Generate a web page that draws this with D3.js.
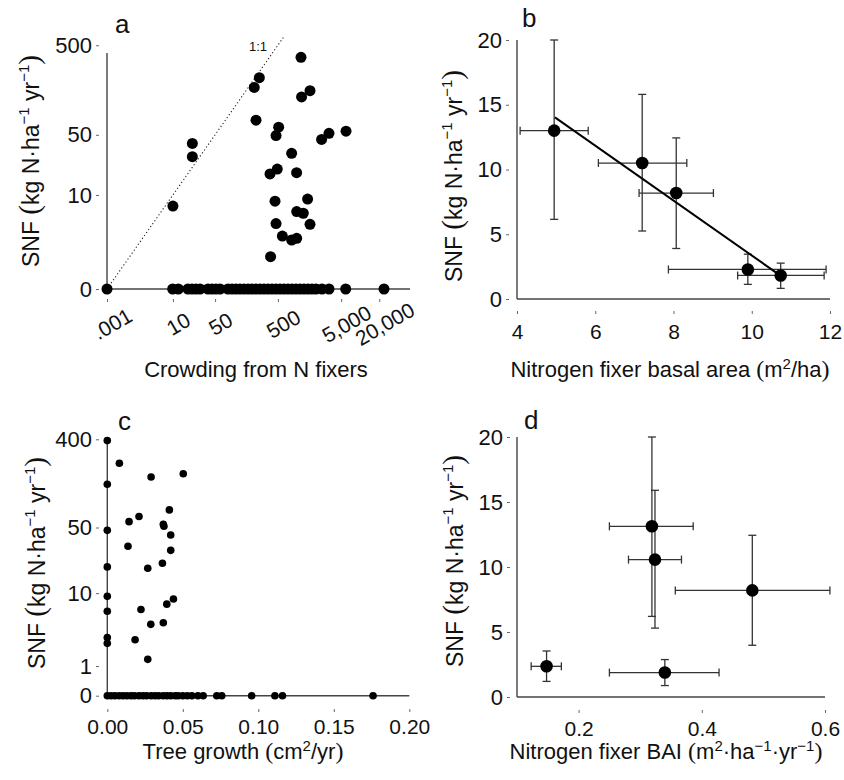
<!DOCTYPE html>
<html>
<head>
<meta charset="utf-8">
<script src="https://cdn.jsdelivr.net/npm/d3@7"></script>
<style>
  body { margin: 0; background: #fff; }
  svg text { font-family: 'Liberation Sans', Arial, sans-serif; fill: #111; }
</style>
</head>
<body>
<svg id="chart" width="844" height="780"></svg>
<script>
// ---- Data ----

// a: crowding from N fixers vs SNF (non-zero SNF)
var crowdA = [10, 21.3, 21.3, 211, 254, 225, 1160, 1185, 1610, 514, 467, 825, 375, 489, 988,
  2455, 3210, 5970, 450, 1475, 992, 1260, 467, 1610, 588, 825, 992, 383]
var snfA = [7.3, 40, 28.2, 170, 218, 73, 367, 133, 156, 61, 49, 30.8, 17.8, 20.3, 18.4,
  44.4, 52, 55, 8.4, 8.9, 6.2, 5.9, 4.3, 4.2, 2.86, 2.49, 2.64, 1.28]
// a: plots with SNF = 0
var crowdZeroA = [0, 9.9, 12.4, 18, 21, 24.5, 28.5, 38.4, 44.6, 51.7, 60, 80.5, 93.4, 108, 125, 145,
  168, 194, 225, 260, 301, 348, 403, 467, 540, 624, 722, 836, 967, 1119, 1294, 1496, 1732, 2003,
  2493, 3215, 5900, 23770]
var xTicksA = [0.001, 10, 50, 500, 5000, 20000]
var yTicksA = [0, 10, 50, 500]

// b: N fixer basal area vs SNF, means with error bars
var basalB = [4.95, 7.2, 8.07, 9.9, 10.74]
var basalLoB = [4.08, 6.08, 7.12, 7.87, 9.64]
var basalHiB = [5.82, 8.34, 9.02, 11.9, 11.85]
var snfB = [13.0, 10.5, 8.18, 2.28, 1.82]
var snfLoB = [6.15, 5.25, 3.9, 1.13, 0.82]
var snfHiB = [20.0, 15.8, 12.44, 3.46, 2.77]
var fitXB = [4.97, 10.68]
var fitYB = [14.02, 1.92]
var xTicksB = [4, 6, 8, 10, 12]
var yTicksB = [0, 5, 10, 15, 20]

// c: tree growth vs SNF
var growthC = [0, 0, 0, 0, 0, 0, 0, 0, 0.008, 0.029, 0.0503, 0.0144, 0.021, 0.0137, 0.0411, 0.0371,
  0.0375, 0.042, 0.042, 0.0365, 0.0268, 0.0438, 0.0394, 0.0223, 0.0288, 0.0371, 0.0184, 0.0268]
var snfC = [388, 139, 46.7, 19.3, 9.2, 6.2, 2.9, 2.4, 228, 165, 178, 57.5, 65, 31.9, 76, 54,
  51.5, 41.8, 28.9, 21.1, 18.7, 8.6, 7.5, 6.5, 4.3, 4.5, 2.7, 1.34]
var growthZeroC = [0, 0.0025, 0.005, 0.0078, 0.0104, 0.013, 0.0157, 0.018, 0.021, 0.0236, 0.026,
  0.029, 0.0316, 0.034, 0.037, 0.0395, 0.042, 0.045, 0.047, 0.05, 0.053, 0.056, 0.06, 0.0635,
  0.0725, 0.0758, 0.0956, 0.111, 0.116, 0.176]
var xTicksC = [0, 0.05, 0.1, 0.15, 0.2]
var yTicksC = [0, 1, 10, 50, 400]

// d: N fixer BAI vs SNF
var baiD = [0.148, 0.319, 0.324, 0.482, 0.34]
var baiLoD = [0.123, 0.25, 0.281, 0.357, 0.25]
var baiHiD = [0.172, 0.386, 0.367, 0.608, 0.428]
var snfD = [2.36, 13.13, 10.57, 8.2, 1.88]
var snfLoD = [1.2, 6.2, 5.3, 3.98, 0.88]
var snfHiD = [3.54, 20, 15.9, 12.44, 2.88]
var xTicksD = [0.2, 0.4, 0.6]
var yTicksD = [0, 5, 10, 15, 20]

var svg = d3.select('#chart')
var axisCol = '#444'
var yTickFont = 22
var xTickFont = 21
var titleFont = 22
var serif = "'Liberation Serif', serif"

// ---- helpers ----
function frame(x, y) {
  var g = svg.append('g')
  g.append('line')
    .attr('x1', x.range()[0]).attr('x2', x.range()[0])
    .attr('y1', y.range()[0]).attr('y2', y.range()[1])
    .attr('stroke', axisCol).attr('stroke-width', 1.4)
  g.append('line')
    .attr('x1', x.range()[0]).attr('x2', x.range()[1])
    .attr('y1', y.range()[0]).attr('y2', y.range()[0])
    .attr('stroke', axisCol).attr('stroke-width', 1.4)
}

function tidy(size) {
  return function(g) {
    g.select('.domain').remove()
    g.selectAll('.tick line').attr('stroke', '#666').attr('stroke-width', 1)
    g.selectAll('.tick text').attr('font-size', size).attr('fill', '#111')
      .style('font-family', "'Liberation Sans', Arial, sans-serif")
  }
}

function yAxis(y, ticks, fmt, xPos) {
  svg.append('g')
    .attr('transform', 'translate(' + xPos + ',0)')
    .call(d3.axisLeft(y).tickValues(ticks).tickFormat(fmt).tickSize(3).tickPadding(4))
    .call(tidy(yTickFont))
}

function xAxis(x, ticks, fmt, yPos, pad) {
  return svg.append('g')
    .attr('transform', 'translate(0,' + yPos + ')')
    .call(d3.axisBottom(x).tickValues(ticks).tickFormat(fmt).tickSize(3).tickPadding(pad))
    .call(tidy(xTickFont))
}

function yTitle(cx, cy) {
  var t = svg.append('text')
    .attr('transform', 'translate(' + cx + ',' + cy + ') rotate(-90)')
    .attr('text-anchor', 'middle')
    .attr('font-size', 23)
  t.append('tspan').text('SNF ')
  t.append('tspan').text('(').attr('font-size', 29).style('font-family', serif)
  t.append('tspan').text('kg N\u00b7ha')
  t.append('tspan').text('\u22121').attr('font-size', 15).attr('dy', -10)
  t.append('tspan').text(' yr').attr('dy', 10)
  t.append('tspan').text('\u22121').attr('font-size', 15).attr('dy', -10)
  t.append('tspan').text(')').attr('dy', 10).attr('font-size', 29).style('font-family', serif)
}

function unitTitle(x, y, parts) {
  var t = svg.append('text').attr('x', x).attr('y', y).attr('text-anchor', 'middle')
    .attr('font-size', titleFont)
  var shift = 0
  parts.forEach(function(p) {
    var s = t.append('tspan').text(p[0])
    var target = p[1] === 'sup' ? -8 : 0
    if (target !== shift) s.attr('dy', target - shift)
    shift = target
    if (p[1] === 'sup') s.attr('font-size', 15)
    if (p[1] === 'paren') s.attr('font-size', 24).style('font-family', serif)
  })
}

function letter(txt, x, y) {
  svg.append('text').attr('x', x).attr('y', y).attr('font-size', 26).text(txt)
}

function errorBars(x, y, xs, ys, xlo, xhi, ylo, yhi) {
  var g = svg.append('g').attr('stroke', '#333').attr('stroke-width', 1.3)
  var cap = 4
  xs.forEach(function(v, i) {
    var px = x(v), py = y(ys[i])
    g.append('line').attr('x1', px).attr('x2', px).attr('y1', y(ylo[i])).attr('y2', y(yhi[i]))
    g.append('line').attr('x1', px - cap).attr('x2', px + cap).attr('y1', y(ylo[i])).attr('y2', y(ylo[i]))
    g.append('line').attr('x1', px - cap).attr('x2', px + cap).attr('y1', y(yhi[i])).attr('y2', y(yhi[i]))
    g.append('line').attr('x1', x(xlo[i])).attr('x2', x(xhi[i])).attr('y1', py).attr('y2', py)
    g.append('line').attr('x1', x(xlo[i])).attr('x2', x(xlo[i])).attr('y1', py - cap).attr('y2', py + cap)
    g.append('line').attr('x1', x(xhi[i])).attr('x2', x(xhi[i])).attr('y1', py - cap).attr('y2', py + cap)
  })
}

function dots(x, y, xs, ys, r) {
  svg.append('g').selectAll('circle')
    .data(xs).enter().append('circle')
    .attr('cx', function(d) { return x(d) })
    .attr('cy', function(d, i) { return y(ys[i]) })
    .attr('r', r)
    .attr('fill', '#000')
}

// ---- Panel a ----
var xA = d3.scaleSymlog().constant(1).domain([0, 61200]).range([107, 410])
var yA = d3.scaleSymlog().constant(1).domain([0, 410]).range([289, 53])

frame(xA, yA)
// 1:1 line
svg.append('line')
  .attr('x1', xA(0)).attr('y1', yA(0))
  .attr('x2', xA(640)).attr('y2', yA(640))
  .attr('stroke', '#222').attr('stroke-width', 1.1).attr('stroke-dasharray', '1.2,2.4')
svg.append('text').attr('x', 258).attr('y', 51).attr('text-anchor', 'middle')
  .attr('font-size', 13).text('1:1')

dots(xA, yA, crowdZeroA, crowdZeroA.map(function() { return 0 }), 5.5)
dots(xA, yA, crowdA, snfA, 5.5)

yAxis(yA, yTicksA, d3.format('d'), 99)
var axA = xAxis(xA, xTicksA, function(d) { return d === 0.001 ? '.001' : d3.format(',')(d) }, 299, 0)
axA.selectAll('.tick text')
  .attr('y', 0).attr('dy', '0.35em')
  .attr('text-anchor', 'middle')
  .attr('transform', 'translate(5,25) rotate(-30)')

unitTitle(256, 377, [['Crowding from N fixers']])
yTitle(39, 161)
letter('a', 115, 33)

// ---- Panel b ----
var xB = d3.scaleLinear().domain([4, 12]).range([517, 830])
var yB = d3.scaleLinear().domain([0, 20]).range([299, 40])

frame(xB, yB)
errorBars(xB, yB, basalB, snfB, basalLoB, basalHiB, snfLoB, snfHiB)
svg.append('line')
  .attr('x1', xB(fitXB[0])).attr('y1', yB(fitYB[0]))
  .attr('x2', xB(fitXB[1])).attr('y2', yB(fitYB[1]))
  .attr('stroke', '#000').attr('stroke-width', 2)
dots(xB, yB, basalB, snfB, 6.3)

yAxis(yB, yTicksB, d3.format('d'), 509)
xAxis(xB, xTicksB, d3.format('d'), 311, 10)

unitTitle(670, 377, [['Nitrogen fixer basal area '], ['(', 'paren'], ['m'], ['2', 'sup'], ['/ha'], [')', 'paren']])
yTitle(462, 176)
letter('b', 522, 27)

// ---- Panel c ----
var xC = d3.scaleLinear().domain([0, 0.2]).range([107.3, 409.3])
var yC = d3.scaleSymlog().constant(1).domain([0, 400]).range([695.7, 439.3])

frame(xC, yC)
dots(xC, yC, growthZeroC, growthZeroC.map(function() { return 0 }), 3.8)
dots(xC, yC, growthC, snfC, 3.8)

yAxis(yC, yTicksC, d3.format('d'), 99)
xAxis(xC, xTicksC, d3.format('.2f'), 709, 7)

unitTitle(243, 759, [['Tree growth '], ['(', 'paren'], ['cm'], ['2', 'sup'], ['/yr'], [')', 'paren']])
yTitle(45, 563)
letter('c', 118, 430)

// ---- Panel d ----
var xD = d3.scaleLinear().domain([0.1, 0.6]).range([517, 825])
var yD = d3.scaleLinear().domain([0, 20]).range([697, 437])

frame(xD, yD)
errorBars(xD, yD, baiD, snfD, baiLoD, baiHiD, snfLoD, snfHiD)
dots(xD, yD, baiD, snfD, 6.3)

yAxis(yD, yTicksD, d3.format('d'), 510)
xAxis(xD, xTicksD, d3.format('.1f'), 710, 8)

unitTitle(666, 759, [['Nitrogen fixer BAI '], ['(', 'paren'], ['m'], ['2', 'sup'], ['\u00b7ha'],
  ['\u22121', 'sup'], ['\u00b7yr'], ['\u22121', 'sup'], [')', 'paren']])
yTitle(463, 561)
letter('d', 524, 429)
</script>
</body>
</html>
